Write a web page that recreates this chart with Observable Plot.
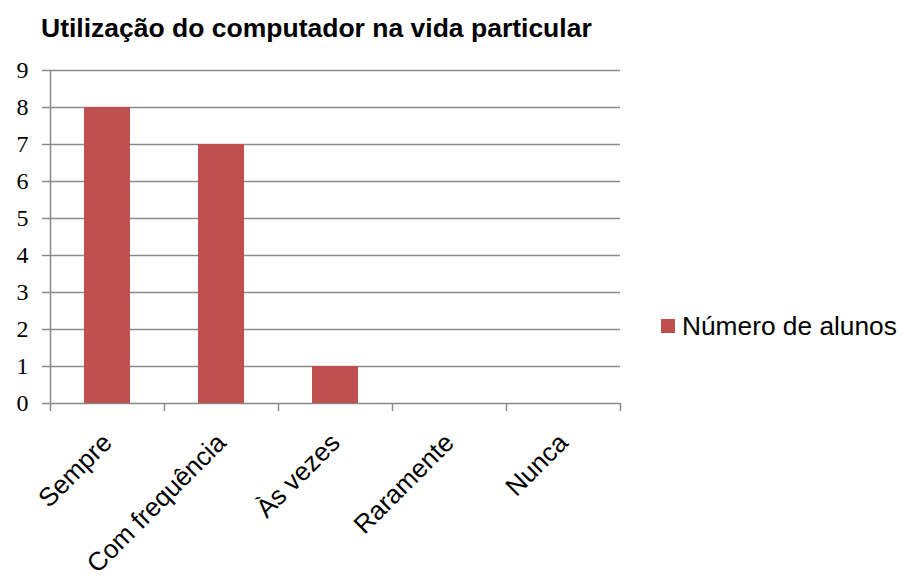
<!DOCTYPE html>
<html>
<head>
<meta charset="utf-8">
<script src="https://cdn.jsdelivr.net/npm/d3@7"></script>
<script src="https://cdn.jsdelivr.net/npm/@observablehq/plot@0.6"></script>
<style>
  html, body { margin: 0; padding: 0; background: #fff; overflow: hidden; }
  #wrap { position: relative; width: 901px; height: 575px; }
  #title { position: absolute; left: 41px; top: 14.5px; font: bold 26.5px/26.5px "Liberation Sans", Arial, sans-serif; color: #000; white-space: nowrap; }
  #legend-swatch { position: absolute; left: 661px; top: 319px; width: 14px; height: 14px; background: #C0504D; }
  #legend-text { position: absolute; left: 682px; top: 313px; font: 26.3px/26px "Liberation Sans", Arial, sans-serif; color: #000; white-space: nowrap; }
  svg { position: absolute; left: 0; top: 0; }
</style>
</head>
<body>
<div id="wrap">
  <div id="chart"></div>
  <div id="title">Utilização do computador na vida particular</div>
  <div id="legend-swatch"></div>
  <div id="legend-text">Número de alunos</div>
</div>
<script>
const categories = ["Sempre", "Com frequência", "Às vezes", "Raramente", "Nunca"];
const values = [8, 7, 1, 0, 0];
const yTicks = [0, 1, 2, 3, 4, 5, 6, 7, 8, 9];
const seriesName = "Número de alunos";

const data = categories.map((c, i) => ({cat: c, value: values[i]}));

const W = 901, H = 575;
const mL = 50, mR = 281, mT = 70, mB = 172;
const step = (W - mL - mR) / categories.length;
const gridColor = "#8a8a8a";

const xLabels = Plot.text(categories, {
  x: d => d, y: () => 0, text: d => d,
  rotate: -45, textAnchor: "end", lineAnchor: "middle",
  dx: 0, dy: 35,
  fontSize: 26, fontFamily: "Liberation Sans", fill: "#000"
});

const yLabels = Plot.text(yTicks, {
  x: () => categories[0], y: d => d, text: d => String(d),
  dx: -step / 2 - 22, textAnchor: "end", lineAnchor: "middle",
  fontSize: 24, fontFamily: "Liberation Serif", fill: "#000"
});

const chart = Plot.plot({
  width: W, height: H,
  marginLeft: mL, marginRight: mR, marginTop: mT, marginBottom: mB,
  style: {background: "transparent", overflow: "visible"},
  x: {domain: categories, paddingInner: 0.6, paddingOuter: 0.3, axis: null},
  y: {domain: [0, 9], axis: null},
  marks: [
    Plot.ruleY(yTicks, {y: d => d, stroke: gridColor, strokeWidth: 1.5, insetLeft: -8}),
    Plot.ruleX([categories[0]], {x: d => d, dx: -step / 2, y1: () => 9, y2: () => 0, insetBottom: -8, stroke: gridColor, strokeWidth: 1.5}),
    Plot.ruleX(categories, {x: d => d, dx: step / 2, y1: () => 0, y2: () => 0, insetBottom: -8, stroke: gridColor, strokeWidth: 1.5}),
    Plot.barY(data, {x: "cat", y: "value", fill: "#C0504D", title: d => `${seriesName}: ${d.value}`}),
    yLabels,
    xLabels
  ]
});
document.getElementById("chart").appendChild(chart);
</script>
</body>
</html>
